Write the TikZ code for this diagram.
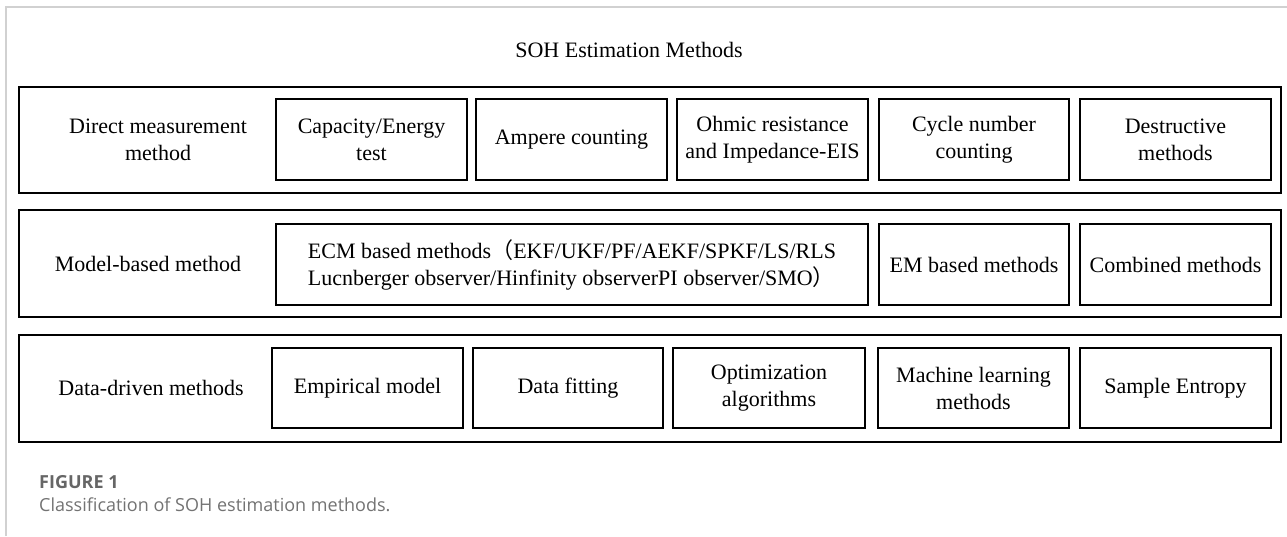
\documentclass[tikz,border=0pt]{standalone}
\usepackage{fontspec}
\setmainfont{Liberation Serif}
\newfontfamily\capfont{Open Sans}
\newfontfamily\cjk{Noto Sans CJK SC}

\begin{document}
\begin{tikzpicture}[x=1pt, y=-1pt]
        \tikzset{row/.style = {draw, line width=2pt, minimum width=1262pt, minimum height=106pt, inner sep=0pt},
                 box/.style = {draw, line width=2pt, minimum height=81pt, inner sep=0pt, align=center, font=\fontsize{22}{27}\selectfont},
                 rowlabel/.style = {align=center, font=\fontsize{22}{27}\selectfont}}

        \fill[white] (0,0) rectangle (1287,536);
        \useasboundingbox (0,0) rectangle (1287,536);
        \draw[black!18, line width=1.5pt] (6,536) -- (6,7) -- (1287,7);

        \node[anchor=base, font=\fontsize{22}{27}\selectfont] (title) at (629, 57) {SOH Estimation Methods};

        % direct measurement
        \node[row] (r1) at (650, 140) {};
        \node[rowlabel] (dm) at (158, 140) {Direct measurement\\method};
        \node[box, minimum width=191pt] (cap) at (371.5, 139.5) {Capacity/Energy\\test};
        \node[box, minimum width=191pt] (amp) at (571.5, 139.5) {Ampere counting};
        \node[box, minimum width=191pt] (ohm) at (772.5, 139.5) {Ohmic resistance\\and Impedance-EIS};
        \node[box, minimum width=190pt] (cyc) at (974, 139.5) {Cycle number\\counting};
        \node[box, minimum width=191pt] (des) at (1175.5, 139.5) {Destructive\\methods};

        % model-based
        \node[row, minimum height=107pt] (r2) at (650, 263.5) {};
        \node[rowlabel] (mb) at (148, 264) {Model-based method};
        \node[box, minimum width=592pt, align=left] (ecm) at (572, 264.5) {ECM based methods{\cjk （}EKF/UKF/PF/AEKF/SPKF/LS/RLS\\Lucnberger observer/Hinfinity observerPI observer/SMO{\cjk ）}};
        \node[box, minimum width=190pt] (em) at (974, 264.5) {EM based methods};
        \node[box, minimum width=191pt] (comb) at (1175.5, 264.5) {Combined methods};

        % data-driven
        \node[row, minimum height=107pt] (r3) at (650, 388.5) {};
        \node[rowlabel] (dd) at (151, 388) {Data-driven methods};
        \node[box, minimum width=191pt, minimum height=80pt] (emp) at (367.5, 388) {Empirical model};
        \node[box, minimum width=190pt, minimum height=80pt] (fit) at (568, 388) {Data fitting};
        \node[box, minimum width=192pt, minimum height=80pt] (opt) at (769, 388) {Optimization\\algorithms};
        \node[box, minimum width=191pt, minimum height=80pt] (ml) at (973.5, 388) {Machine learning\\methods};
        \node[box, minimum width=191pt, minimum height=80pt] (se) at (1175.5, 388) {Sample Entropy};

        % caption
        \node[anchor=base west, inner sep=0pt, text=black!60, font=\capfont\bfseries\fontsize{18}{21}\selectfont] (fig) at (39, 488) {FIGURE 1};
        \node[anchor=base west, inner sep=0pt, text=black!55, font=\capfont\fontsize{18}{21}\selectfont] (capt) at (39, 511) {Classification of SOH estimation methods.};

    \end{tikzpicture}
\end{document}
